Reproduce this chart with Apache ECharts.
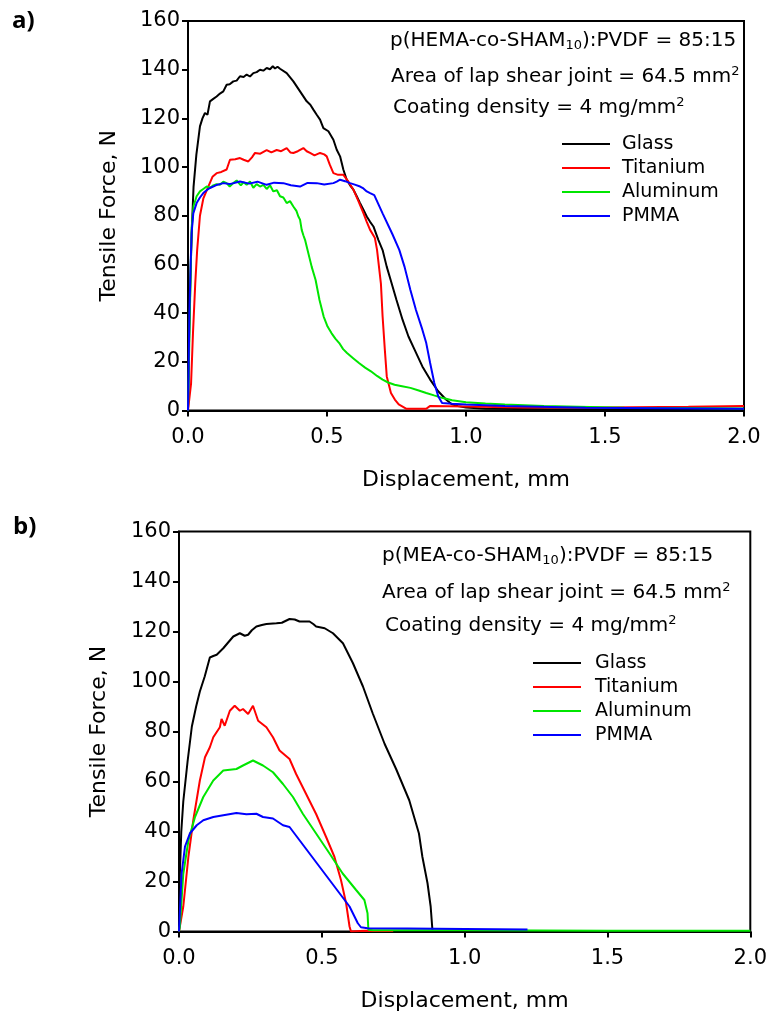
<!DOCTYPE html>
<html><head><meta charset="utf-8">
<script src="https://cdn.jsdelivr.net/npm/echarts@6/dist/echarts.min.js"></script>
<style>html,body{margin:0;padding:0;background:#fff}#c{width:770px;height:1019px}</style>
</head><body><div id="c"></div>
<script>
// ---------- data ----------
const materials = ['Glass', 'Titanium', 'Aluminum', 'PMMA'];
const colors = ['#000000', '#ff0000', '#00e600', '#0000ff'];
const xTicks = [0.0, 0.5, 1.0, 1.5, 2.0];
const yTicks = [0, 20, 40, 60, 80, 100, 120, 140, 160];
const notesA = ['p(HEMA-co-SHAM{sub|10}):PVDF = 85:15', 'Area of lap shear joint = 64.5 mm{sup|2}', 'Coating density = 4 mg/mm{sup|2}'];
const notesB = ['p(MEA-co-SHAM{sub|10}):PVDF = 85:15', 'Area of lap shear joint = 64.5 mm{sup|2}', 'Coating density = 4 mg/mm{sup|2}'];

// panel a) p(HEMA-co-SHAM10):PVDF
const glassA = [[0,0],[0.004,30],[0.01,60],[0.015,78],[0.02,92],[0.03,105],[0.043,116.7],[0.052,120],[0.061,122.2],[0.07,121.5],[0.079,127],[0.091,128],[0.103,129],[0.115,130.2],[0.127,131.1],[0.139,133.8],[0.15,134],[0.163,135.2],[0.175,135.5],[0.187,137.3],[0.2,137],[0.211,138],[0.223,137.2],[0.235,138.6],[0.247,139],[0.259,140],[0.271,139.6],[0.283,140.7],[0.295,140.2],[0.305,141.4],[0.313,140.5],[0.322,141.2],[0.331,140.4],[0.355,138.6],[0.379,135.2],[0.403,131.1],[0.427,127],[0.44,125.6],[0.451,123.6],[0.463,121.5],[0.475,119.5],[0.487,116],[0.505,114.7],[0.523,111.2],[0.535,107.1],[0.547,104.4],[0.559,98.9],[0.571,94.8],[0.583,92.5],[0.595,90.7],[0.607,88],[0.619,85.2],[0.631,82.5],[0.643,79.7],[0.655,77.5],[0.667,75.6],[0.685,70],[0.70,65.9],[0.715,59],[0.729,53.6],[0.75,45.4],[0.772,37.2],[0.793,30.4],[0.815,25],[0.843,18.1],[0.871,12.7],[0.9,7.9],[0.928,4.5],[0.95,2.5],[0.971,1.8],[1.0,1.2],[1.07,0.7],[1.3,0.5],[1.6,0.5],[2.0,0.5]];
const titaniumA = [[0,0],[0.004,0.4],[0.011,11],[0.018,32],[0.026,52],[0.033,66],[0.043,80],[0.055,87],[0.073,92],[0.088,96],[0.103,97.5],[0.12,98],[0.139,99],[0.151,103],[0.17,103.2],[0.187,103.7],[0.2,103],[0.217,102.3],[0.23,104],[0.241,105.8],[0.26,105.5],[0.283,107],[0.3,106],[0.319,107],[0.335,106.5],[0.355,107.8],[0.368,106],[0.379,105.8],[0.395,106.5],[0.415,107.8],[0.427,106.5],[0.439,105.8],[0.455,104.8],[0.475,105.8],[0.49,105.2],[0.499,104.4],[0.51,101],[0.523,97.5],[0.54,96.8],[0.559,96.8],[0.577,94],[0.595,90.7],[0.613,86],[0.631,81.1],[0.643,77.5],[0.655,74.2],[0.672,71],[0.68,66],[0.694,52],[0.70,38.6],[0.708,25],[0.715,14],[0.73,7.2],[0.744,4.5],[0.758,2.5],[0.786,0.7],[0.857,0.7],[0.87,1.8],[1.0,1.6],[1.2,1.2],[1.5,1.2],[1.8,1.5],[2.0,1.8]];
const aluminumA = [[0,0],[0.005,30],[0.01,60],[0.013,75],[0.02,84],[0.031,88],[0.043,90],[0.055,91],[0.067,92],[0.08,91.5],[0.091,92.5],[0.103,93],[0.115,92.7],[0.127,94],[0.139,93.4],[0.15,92],[0.163,93.4],[0.175,94.5],[0.19,92.5],[0.2,93.8],[0.211,92.7],[0.223,94.1],[0.235,91.5],[0.247,93],[0.259,92],[0.271,92.7],[0.283,91],[0.295,92.5],[0.307,90],[0.32,90.5],[0.331,88],[0.343,87.5],[0.355,85.2],[0.367,86],[0.379,83.8],[0.39,82],[0.397,79.7],[0.403,78.4],[0.409,74.2],[0.415,72],[0.421,70.1],[0.43,65.9],[0.445,59],[0.459,53.6],[0.473,45.4],[0.488,38.6],[0.502,34.5],[0.516,31.8],[0.53,29.5],[0.544,27.7],[0.558,25.2],[0.572,23.6],[0.594,21.5],[0.615,19.5],[0.637,17.6],[0.658,16.1],[0.68,14.2],[0.70,12.7],[0.72,11.5],[0.743,10.6],[0.77,10],[0.80,9.3],[0.83,8.2],[0.857,7.2],[0.885,6.2],[0.914,5.2],[0.95,4.2],[1.0,3.4],[1.07,2.9],[1.14,2.5],[1.28,1.8],[1.57,1.1],[1.8,1.0],[2.0,0.8]];
const pmmaA = [[0,0],[0.005,40],[0.01,62],[0.013,72.9],[0.019,81],[0.031,85.2],[0.043,87.5],[0.055,89.3],[0.067,90.5],[0.079,91.4],[0.1,92.5],[0.127,93.4],[0.15,93],[0.187,94.1],[0.22,93.2],[0.25,94],[0.283,92.7],[0.31,93.6],[0.343,93.4],[0.37,92.5],[0.403,92],[0.43,93.5],[0.463,93.4],[0.49,92.8],[0.523,93.4],[0.535,94],[0.547,94.8],[0.565,94.2],[0.583,93.4],[0.6,92.8],[0.619,92],[0.631,91.2],[0.643,90],[0.655,89.3],[0.67,88.5],[0.70,81],[0.735,72.5],[0.76,66],[0.779,59],[0.80,49.5],[0.82,41.3],[0.843,33.2],[0.857,27.7],[0.871,19.5],[0.886,11.3],[0.9,5.9],[0.914,3.1],[0.95,2.8],[1.0,2.5],[1.14,1.8],[1.43,1.1],[1.7,0.9],[2.0,0.7]];

// panel b) p(MEA-co-SHAM10):PVDF
const glassB = [[0,0],[0.003,23],[0.008,40],[0.015,52],[0.03,68],[0.045,82],[0.06,90],[0.073,96],[0.09,102],[0.108,109.6],[0.12,110.2],[0.132,110.7],[0.155,113.3],[0.175,116],[0.19,118],[0.213,119.3],[0.23,118.3],[0.242,118.7],[0.255,120.5],[0.271,122],[0.29,122.6],[0.306,123],[0.341,123.3],[0.36,123.5],[0.387,125],[0.405,124.8],[0.422,124],[0.457,124],[0.47,123],[0.48,122],[0.51,121.3],[0.539,119.3],[0.574,115.3],[0.609,107.3],[0.644,98],[0.678,87.3],[0.72,75],[0.76,65],[0.806,52.5],[0.84,39.2],[0.852,29.9],[0.87,19.3],[0.881,10],[0.887,0.9],[0.89,0]];
const titaniumB = [[0,0],[0.015,10],[0.033,30],[0.05,44.5],[0.073,60.4],[0.091,69.7],[0.108,73.7],[0.12,77.7],[0.143,81.7],[0.149,85],[0.16,82.3],[0.178,88.3],[0.195,90.3],[0.213,88.3],[0.224,89],[0.242,87],[0.259,90.3],[0.277,84.3],[0.306,81.7],[0.329,77.7],[0.352,72.4],[0.387,69],[0.41,63],[0.445,55],[0.48,47],[0.515,37.8],[0.544,29.9],[0.567,20.6],[0.585,11.3],[0.597,2],[0.602,0],[0.65,0.3],[0.75,0.2]];
const aluminumB = [[0,0],[0.003,2],[0.015,23],[0.033,36.5],[0.056,45.8],[0.085,53.8],[0.12,60.4],[0.155,64.4],[0.201,65],[0.224,66.4],[0.259,68.4],[0.294,66.4],[0.329,63.7],[0.364,59],[0.399,53.8],[0.434,47],[0.48,39.2],[0.527,31.2],[0.573,23.2],[0.62,16.6],[0.649,12.6],[0.66,7.3],[0.663,0.7],[0.68,0.5],[1.0,0.5],[1.5,0.3],[2.0,0.3]];
const pmmaB = [[0,0],[0.009,23],[0.021,34],[0.038,39.2],[0.062,42.5],[0.085,44.5],[0.12,45.8],[0.155,46.5],[0.201,47.4],[0.236,46.9],[0.271,47.1],[0.294,45.8],[0.329,45.2],[0.364,42.5],[0.387,41.8],[0.422,36.5],[0.457,31.2],[0.492,25.9],[0.527,20.6],[0.562,15.3],[0.597,10],[0.626,3.3],[0.637,1.7],[0.66,1.3],[0.8,1.2],[1.0,1.0],[1.22,0.8]];

const panelA = [glassA, titaniumA, aluminumA, pmmaA];
const panelB = [glassB, titaniumB, aluminumB, pmmaB];

// ---------- chart ----------
const FONT = '"DejaVu Sans", sans-serif';
const chart = echarts.init(document.getElementById('c'), null, {renderer: 'canvas'});

const grids = [
  {left: 188, top: 21, width: 556, height: 389.5},
  {left: 179, top: 531.5, width: 573, height: 400}
];

function xAxis(i, gap) {
  return {
    gridIndex: i, type: 'value', min: xTicks[0], max: xTicks[xTicks.length - 1],
    interval: xTicks[1] - xTicks[0],
    name: 'Displacement, mm', nameLocation: 'middle', nameGap: gap,
    nameTextStyle: {fontFamily: FONT, fontSize: 22, color: '#000'},
    axisLine: {show: true, onZero: false, lineStyle: {color: '#000', width: 2}},
    axisTick: {show: true, inside: false, length: 6, lineStyle: {color: '#000', width: 2}},
    axisLabel: {fontFamily: FONT, fontSize: 21, color: '#000', margin: 17, formatter: v => v.toFixed(1)},
    splitLine: {show: false}
  };
}
function yAxis(i, gap) {
  return {
    gridIndex: i, type: 'value', min: yTicks[0], max: yTicks[yTicks.length - 1],
    interval: yTicks[1] - yTicks[0],
    name: 'Tensile Force, N', nameLocation: 'middle', nameGap: gap,
    nameTextStyle: {fontFamily: FONT, fontSize: 22, color: '#000'},
    axisLine: {show: true, onZero: false, lineStyle: {color: '#000', width: 2}},
    axisTick: {show: true, inside: false, length: 6, lineStyle: {color: '#000', width: 2}},
    axisLabel: {fontFamily: FONT, fontSize: 21, color: '#000', margin: 8},
    splitLine: {show: false}
  };
}

const series = [];
[panelA, panelB].forEach((panel, gi) => {
  panel.forEach((d, k) => {
    series.push({
      name: materials[k], type: 'line', xAxisIndex: gi, yAxisIndex: gi,
      data: d, showSymbol: false, symbol: 'none', clip: true,
      lineStyle: {color: colors[k], width: 2}, itemStyle: {color: colors[k]},
      emphasis: {disabled: true}
    });
  });
});

function legend(left, top, pad) {
  return {
    orient: 'vertical', left: left, top: top, icon: 'rect', itemWidth: 48, itemHeight: 2,
    itemGap: 4, padding: 0, selectedMode: false,
    textStyle: {fontFamily: FONT, fontSize: 19, color: '#000', lineHeight: 20, padding: [0, 0, 0, pad]},
    data: materials
  };
}

const rich = {
  sub: {fontFamily: FONT, fontSize: 13, fill: '#000', verticalAlign: 'bottom', padding: [10, 0, 0, 0]},
  sup: {fontFamily: FONT, fontSize: 13, fill: '#000', verticalAlign: 'top', padding: [0, 0, 10, 0]}
};
function notes(lines, x, ys) {
  return lines.map((t, i) => ({
    type: 'text', left: x[i], top: ys[i] - 12,
    style: {text: t, fontFamily: FONT, fontSize: 20, fill: '#000', rich: rich}
  }));
}

const graphic = [
  {type: 'text', left: 12, top: 9, style: {text: 'a)', font: 'bold 24px "Open Sans", sans-serif', fill: '#000'}},
  {type: 'text', left: 13, top: 515, style: {text: 'b)', font: 'bold 24px "Open Sans", sans-serif', fill: '#000'}},
  ...notes(notesA, [390, 391, 393], [43, 77, 108]),
  ...notes(notesB, [382, 382, 385], [558, 593, 626])
];

chart.setOption({
  animation: false,
  backgroundColor: '#fff',
  grid: grids.map(g => Object.assign({show: true, borderColor: '#000', borderWidth: 2, backgroundColor: 'transparent'}, g)),
  xAxis: [xAxis(0, 59), xAxis(1, 59)],
  yAxis: [yAxis(0, 68), yAxis(1, 69)],
  legend: [legend(562, 134, 7), legend(533, 653, 9)],
  graphic: graphic,
  series: series
});
</script>
</body></html>
